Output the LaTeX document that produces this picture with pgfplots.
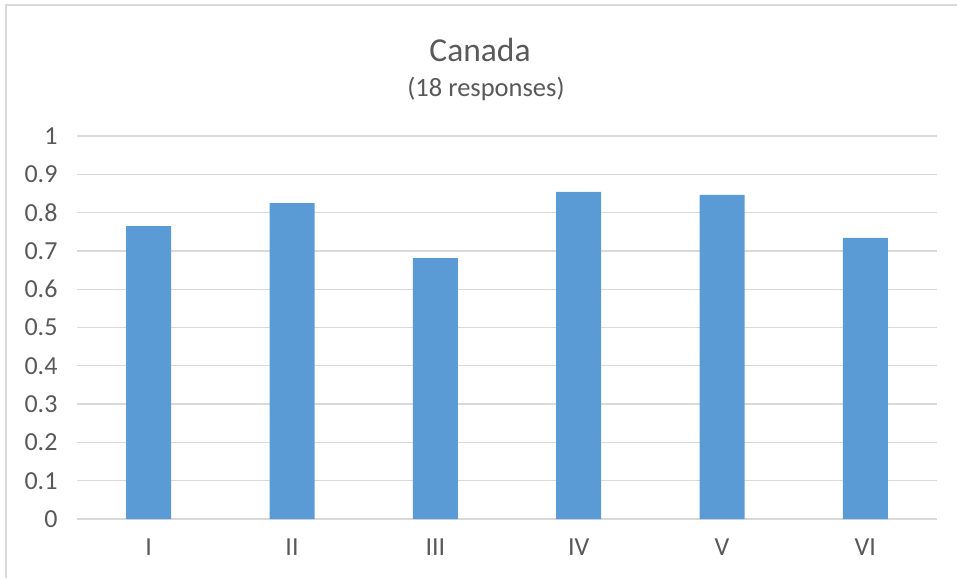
\documentclass[border=0pt]{standalone}
\usepackage{fontspec}
\setmainfont{Carlito}
\usepackage{pgfplots}
\pgfplotsset{compat=1.18}
\definecolor{barblue}{HTML}{5B9BD5}
\definecolor{txtgray}{HTML}{595959}
\definecolor{gridgray}{HTML}{D9D9D9}
\begin{document}
\begin{tikzpicture}[x=1pt,y=1pt]
\useasboundingbox (0,0) rectangle (957,578);
% chart frame (only left and top edges are visible in the crop)
\draw[gridgray, line width=2pt] (6,0) -- (6,573) -- (957,573);
\begin{axis}[
    at={(77pt,59pt)}, anchor=south west,
    scale only axis,
    width=860pt, height=383pt,
    ybar, bar width=45pt,
    xmin=-0.5, xmax=5.5,
    ymin=0, ymax=1,
    xtick=data,
    xticklabels={I, II, III, IV, V, VI},
    ytick={0,0.1,0.2,0.3,0.4,0.5,0.6,0.7,0.8,0.9,1},
    ymajorgrids,
    grid style={gridgray, line width=1.3pt},
    axis x line*=bottom,
    axis y line*=left,
    y axis line style={draw=none},
    x axis line style={gridgray, line width=1.3pt},
    major tick length=0pt,
    tick style={draw=none},
    /pgf/number format/assume math mode=true,
    tick label style={font=\fontsize{26}{30}\selectfont, text=txtgray},
    yticklabel style={xshift=-16pt},
    xticklabel style={yshift=-16pt},
]
\addplot[fill=barblue, draw=none] coordinates {
    (0,0.765)
    (1,0.825)
    (2,0.681)
    (3,0.854)
    (4,0.846)
    (5,0.734)
};
\end{axis}
\node[text=txtgray, font=\fontsize{33.5}{38}\selectfont] at (480,528) {Canada};
\node[text=txtgray, font=\fontsize{26.5}{30}\selectfont] at (486,489) {(18 responses)};
\end{tikzpicture}
\end{document}
